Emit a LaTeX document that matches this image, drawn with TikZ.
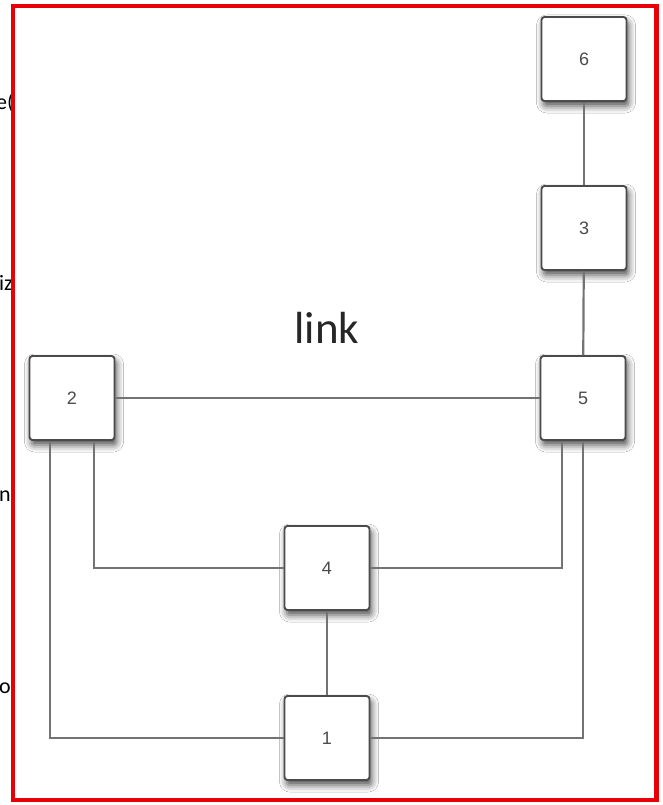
\documentclass[tikz,border=0pt]{standalone}
\usepackage{fontspec}
\usetikzlibrary{shadows.blur}
\newfontfamily\carl{Carlito}
\newfontfamily\helv{Liberation Sans}
\definecolor{framered}{RGB}{232,0,8}
\definecolor{boxline}{RGB}{75,75,75}
\definecolor{wirecol}{RGB}{115,115,115}
\definecolor{digit}{RGB}{75,75,75}
\tikzset{
  netbox/.style={draw=boxline, line width=1.9pt, fill=white, rounded corners=3pt,
    minimum width=85pt, minimum height=84pt, inner sep=0pt,
    font=\helv\fontsize{18}{18}\selectfont, text=digit,
    blur shadow={shadow xshift=2pt, shadow yshift=-5pt, shadow blur radius=7pt, shadow opacity=70}},
  wire/.style={draw=wirecol, line width=2.2pt},
  edgetext/.style={font=\carl\fontsize{22}{22}\selectfont, text=black, inner sep=0pt, anchor=base west},
}
\begin{document}
\begin{tikzpicture}[x=1pt, y=-1pt]
  \useasboundingbox (0,0) rectangle (663,805);
  \fill[white] (0,0) rectangle (663,805);

  % text running off the left edge, cut by the frame
  \begin{scope}
    \clip (0,0) rectangle (12,805);
    \node[edgetext] (t1) at (-4,110) {e(};
    \node[edgetext] (t2) at (-1,290) {iz};
    \node[edgetext] (t3) at (-1,501) {n};
    \node[edgetext] (t4) at (-1,693) {o};
  \end{scope}

  % network nodes
  \node[netbox] (b6) at (584,59)  {6};
  \node[netbox] (b3) at (584,228) {3};
  \node[netbox] (b5) at (583,398) {5};
  \node[netbox] (b2) at (72,398)  {2};
  \node[netbox] (b4) at (327,568) {4};
  \node[netbox] (b1) at (327,738) {1};

  % links
  \draw[wire] (b6) -- (b3);
  \draw[wire] (b3) -- (b5);
  \draw[wire] (b2) -- (b5);
  \draw[wire] (b4) -- (b1);
  \draw[wire] ([xshift=-22pt]b2.south) |- (b1.west);
  \draw[wire] ([xshift=22pt]b2.south) |- (b4.west);
  \draw[wire] ([xshift=-21pt]b5.south) |- (b4.east);
  \draw[wire] (b5.south) |- (b1.east);

  \node[font=\carl\fontsize{45}{45}\selectfont, text=black!85, anchor=base, inner sep=0pt] (lbl) at (327,343) {link};

  % red frame
  \draw[framered, line width=4.5pt] (13,6) rectangle (656.5,800);
\end{tikzpicture}
\end{document}
